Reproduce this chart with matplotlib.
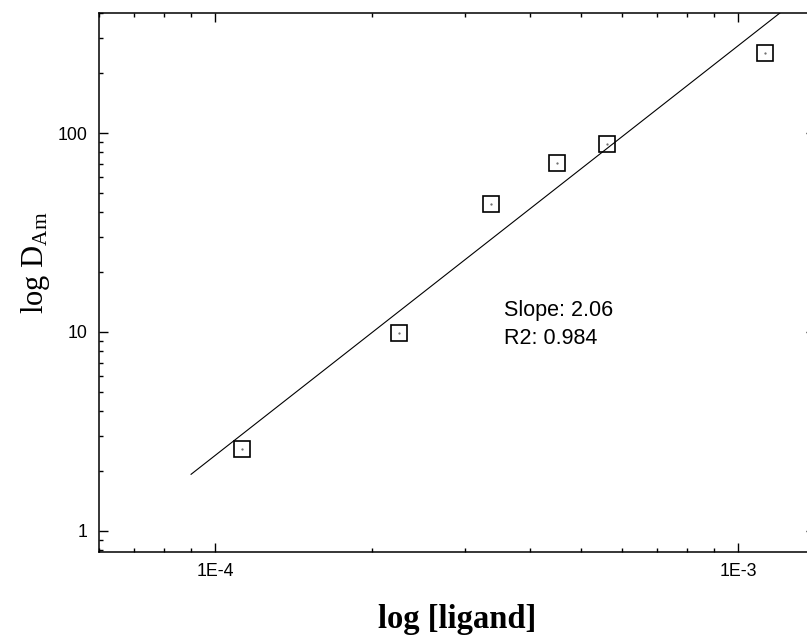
# log D(Am) vs log [ligand] with a linear fit on log-log axes

import numpy as np
import matplotlib
matplotlib.use('Agg')
from matplotlib import pyplot as plt
from matplotlib.ticker import FixedLocator, FixedFormatter, LogLocator, NullFormatter

# data
ligand = [1.125e-4, 2.25e-4, 3.375e-4, 4.5e-4, 5.625e-4, 1.125e-3]
d_am = [2.58, 9.9, 44.0, 70.7, 88.0, 252.0]

x_ticks = [1e-4, 1e-3]
x_ticklabels = ['1E-4', '1E-3']
y_ticks = [1, 10, 100]
y_ticklabels = ['1', '10', '100']

fit_x_range = [9e-5, 1.5e-3]
fit_labels = ['Slope: 2.06', 'R2: 0.984']

plt.rcParams['font.family'] = ['Liberation Sans', 'DejaVu Sans']
plt.rcParams['mathtext.fontset'] = 'custom'
plt.rcParams['mathtext.rm'] = 'Liberation Serif'
plt.rcParams['mathtext.it'] = 'Liberation Serif:italic'

fig = plt.figure(figsize=(8.07, 6.38), dpi=100)
ax = fig.add_axes([99/807, 1 - 552/638, (815 - 99)/807, (552 - 13)/638])

# linear fit in log-log space
lx = np.log10(ligand)
ly = np.log10(d_am)
slope, intercept = np.polyfit(lx, ly, 1)
xf = np.array(fit_x_range)
ax.plot(xf, 10**(intercept + slope*np.log10(xf)), color='black', lw=0.8)

ax.plot(ligand, d_am, linestyle='none', marker='s', ms=11.5,
        mfc='none', mec='black', mew=1.2)
ax.plot(ligand, d_am, linestyle='none', marker='.', ms=1.2, color='0.4')

ax.set_xscale('log')
ax.set_yscale('log')
ax.set_xlim(6.0e-5, 1.404e-3)
ax.set_ylim(0.784, 401)

ax.xaxis.set_major_locator(FixedLocator(x_ticks))
ax.xaxis.set_major_formatter(FixedFormatter(x_ticklabels))
ax.yaxis.set_major_locator(FixedLocator(y_ticks))
ax.yaxis.set_major_formatter(FixedFormatter(y_ticklabels))
ax.xaxis.set_minor_locator(LogLocator(base=10, subs=np.arange(2, 10)))
ax.yaxis.set_minor_locator(LogLocator(base=10, subs=np.arange(2, 10)))
ax.xaxis.set_minor_formatter(NullFormatter())
ax.yaxis.set_minor_formatter(NullFormatter())

ax.tick_params(which='both', direction='in', top=True, right=True,
               width=1.0, labelsize=12.8, color='black')
ax.tick_params(which='major', length=6.8, pad=8)
ax.tick_params(which='minor', length=3.2)
ax.tick_params(axis='y', which='minor', right=False)
for sp in ax.spines.values():
    sp.set_linewidth(1.1)

ax.text(0.566, 0.4378, fit_labels[0], transform=ax.transAxes,
        fontsize=15.5, va='baseline', ha='left')
ax.text(0.566, 0.3859, fit_labels[1], transform=ax.transAxes,
        fontsize=15.5, va='baseline', ha='left')

ax.set_xlabel('log [ligand]', family='Liberation Serif', fontweight='bold',
              fontsize=23.5, labelpad=17)
ax.set_ylabel(r'log D$_{\mathrm{Am}}$', family='Liberation Serif',
              fontsize=22)
ax.yaxis.set_label_coords(-0.066, 0.536)

fig.savefig('out.png', dpi=100)
